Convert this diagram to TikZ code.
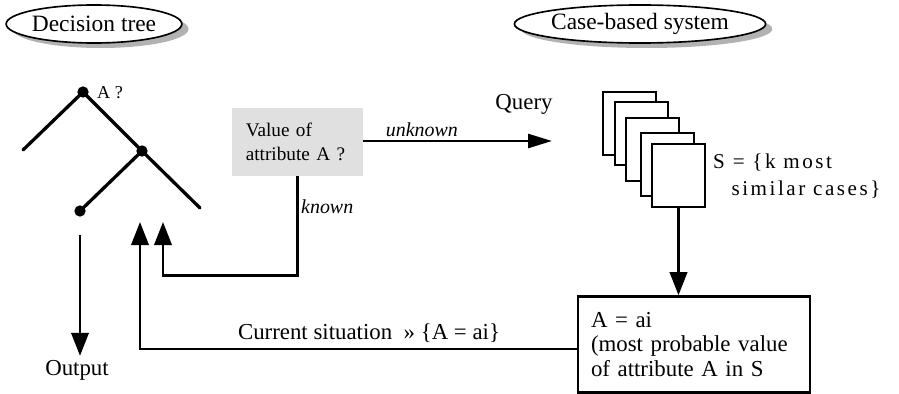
\documentclass[tikz,border=0pt]{standalone}
\usepackage{fontspec}
\setmainfont{Liberation Serif}
\newfontfamily\spaced[LetterSpace=12]{Liberation Serif}
\usepackage{tikz}
\usetikzlibrary{positioning, arrows.meta, shapes.geometric, shadows}

\tikzset{
    title/.style={ellipse, draw, line width=1.4pt, fill=white, inner sep=0pt, minimum height=1.14cm,
        font=\fontsize{20}{24}\selectfont,
        drop shadow={shadow xshift=0.2cm, shadow yshift=-0.15cm, fill=black!30, opacity=1}},
    branch/.style={line width=2.8pt, line cap=round},
    knot/.style={circle, fill, inner sep=0pt, minimum size=0.34cm},
    flow/.style={line width=2.2pt, -{Triangle[length=0.69cm, width=0.52cm]}},
    plain/.style={font=\fontsize{19.5}{21}\selectfont},
    card/.style={draw, line width=1.9pt, fill=white, inner sep=0pt, minimum width=1.59cm, minimum height=1.89cm},
}

\begin{document}
\begin{tikzpicture}[x=0.03cm, y=-0.03cm]
\useasboundingbox (0,0) rectangle (899,394);

\node[title, minimum width=5.16cm] (tree title) at (94,24) {Decision tree};
\node[title, minimum width=7.05cm] (case title) at (640,24) {Case-based system};

% the tree
\node[knot] (root) at (83,92) {};
\node[knot] (inner) at (142,151) {};
\node[knot] (leaf) at (80,211) {};
\coordinate (left end) at (23,150);
\coordinate (right end) at (200,208);
\draw[branch] (left end) -- (root.center) -- (inner.center) -- (right end);
\draw[branch] (inner.center) -- (leaf.center);
\node[anchor=west, inner sep=0pt, font=\fontsize{15.5}{18}\selectfont] (test) at (97,93) {A ?};

\node[plain] (output) at (77,370) {Output};
\draw[flow] ([yshift=-0.72cm]leaf.center) -- (leaf.center |- output.north);

% question box
\node[fill=black!12, align=left, text width=3.1cm, inner xsep=0.42cm, minimum height=2.04cm,
      font=\fontsize{16.4}{21}\selectfont] (ask) at (297.5,142) {Value of\\attribute A ?};

\coordinate (query end) at (552,141);
\draw[line width=2.2pt, -{Triangle[length=0.72cm, width=0.42cm]}] (ask.east |- query end) -- (query end)
    node[pos=0.31, above=-1pt, font=\itshape\fontsize{17}{20}\selectfont] (unknown) {unknown};
\node[plain] (query) at (524,104) {Query};

\coordinate (known in) at (163,222);
\draw[flow] (ask.south) -- ++(0,99) -| (known in);
\node[anchor=west, inner sep=0pt, font=\itshape\fontsize{17}{20}\selectfont] (known) at (301,207) {known};

% retrieved cases
\foreach \n/\x/\y in {1/629.5/123.5, 2/641.5/133.5, 3/652.5/149.5, 4/667.5/164.5, 5/678.5/175.5}
    \node[card] (case\n) at (\x,\y) {};
\node[anchor=west, align=left, inner sep=0pt, font=\spaced\fontsize{18}{23}\selectfont] (similar) at (713,176)
    {S = \{k most\\\hspace*{0.55cm}similar cases\}};

% result
\node[draw, line width=2.2pt, plain, align=left, text width=6.18cm, inner xsep=0.39cm, minimum height=2.88cm]
    (result) at (694,344.5) {A = ai\\(most probable value\\of attribute A in S};
\draw[flow] (case5.south) -- (case5.south |- result.north);

\coordinate (current in) at (140,222);
\draw[flow] ([yshift=-0.13cm]result.west) -| (current in);
\node[plain] (situation) at (369,333) {Current situation~~» \{A = ai\}};

\end{tikzpicture}
\end{document}
